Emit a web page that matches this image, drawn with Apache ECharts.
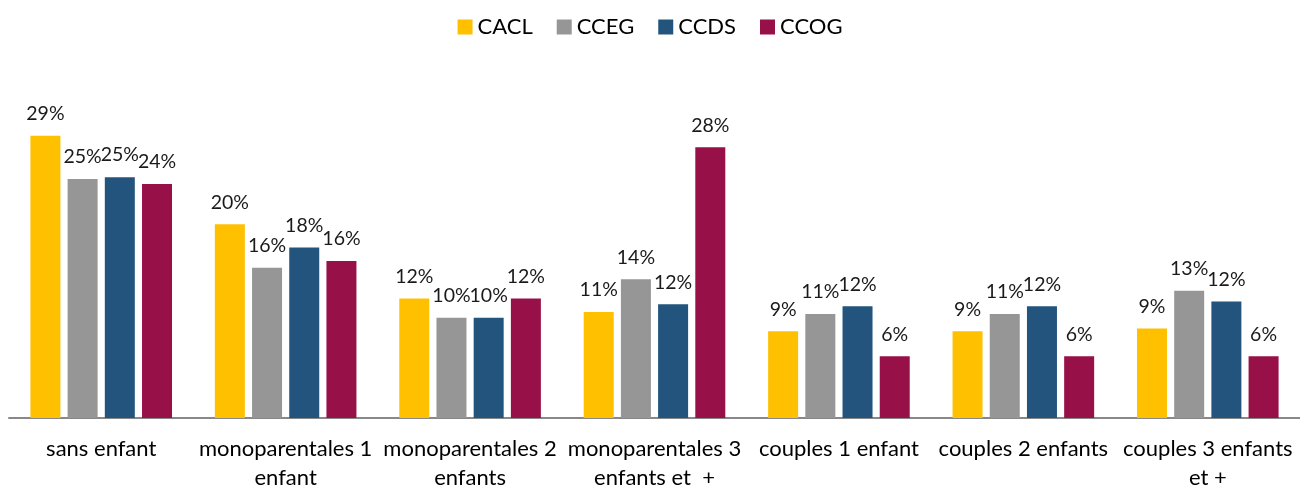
<!DOCTYPE html>
<html>
<head>
<meta charset="utf-8">
<script src="https://cdn.jsdelivr.net/npm/echarts@6/dist/echarts.min.js"></script>
<style>
    html, body { margin: 0; padding: 0; background: #fff; }
    #main { width: 1300px; height: 492px; }
</style>
</head>
<body>
<div id="main"></div>
<script>
// categories (tick labels, wrapped like the original)
var categories = [
    'sans enfant',
    'monoparentales 1\nenfant',
    'monoparentales 2\nenfants',
    'monoparentales 3\nenfants et  +',
    'couples 1 enfant',
    'couples 2 enfants',
    'couples 3 enfants\net +'
];
var seriesNames = ['CACL', 'CCEG', 'CCDS', 'CCOG'];
var colors = ['#FFC000', '#969696', '#22547E', '#981048'];

// values in %
var cacl = [29.3, 20.1, 12.4, 11.0, 9.0, 9.0, 9.3];
var cceg = [24.8, 15.6, 10.4, 14.4, 10.8, 10.8, 13.2];
var ccds = [25.0, 17.7, 10.4, 11.8, 11.6, 11.6, 12.1];
var ccog = [24.3, 16.3, 12.4, 28.1, 6.4, 6.4, 6.4];
var allData = [cacl, cceg, ccds, ccog];

var myChart = echarts.init(document.getElementById('main'));

var series = seriesNames.map(function (name, i) {
    return {
        name: name,
        type: 'bar',
        data: allData[i],
        barWidth: 30,
        barGap: '24%',
        itemStyle: { color: colors[i] },
        label: {
            show: true,
            position: 'top',
            distance: 12,
            color: '#1a1a1a',
            fontFamily: 'Lato',
            fontSize: 19.5,
            formatter: function (p) {
                return Math.round(p.value) + '%';
            }
        }
    };
});

var option = {
    animation: false,
    legend: {
        data: seriesNames,
        top: 11,
        left: 'center',
        icon: 'rect',
        itemWidth: 15,
        itemHeight: 15,
        itemGap: 24,
        textStyle: { fontFamily: 'Lato', fontSize: 22, color: '#000' }
    },
    grid: {
        left: 9,
        width: 1300,
        top: 129,
        bottom: 69
    },
    xAxis: {
        type: 'category',
        data: categories,
        axisLine: { show: true, lineStyle: { color: '#888', width: 2 } },
        axisTick: { show: false },
        axisLabel: {
            interval: 0,
            margin: 16,
            lineHeight: 29,
            fontFamily: 'Lato',
            fontSize: 22,
            color: '#000'
        }
    },
    yAxis: {
        type: 'value',
        min: 0,
        max: 30,
        show: false,
        splitLine: { show: false }
    },
    series: series
};
myChart.setOption(option);
</script>
</body>
</html>
